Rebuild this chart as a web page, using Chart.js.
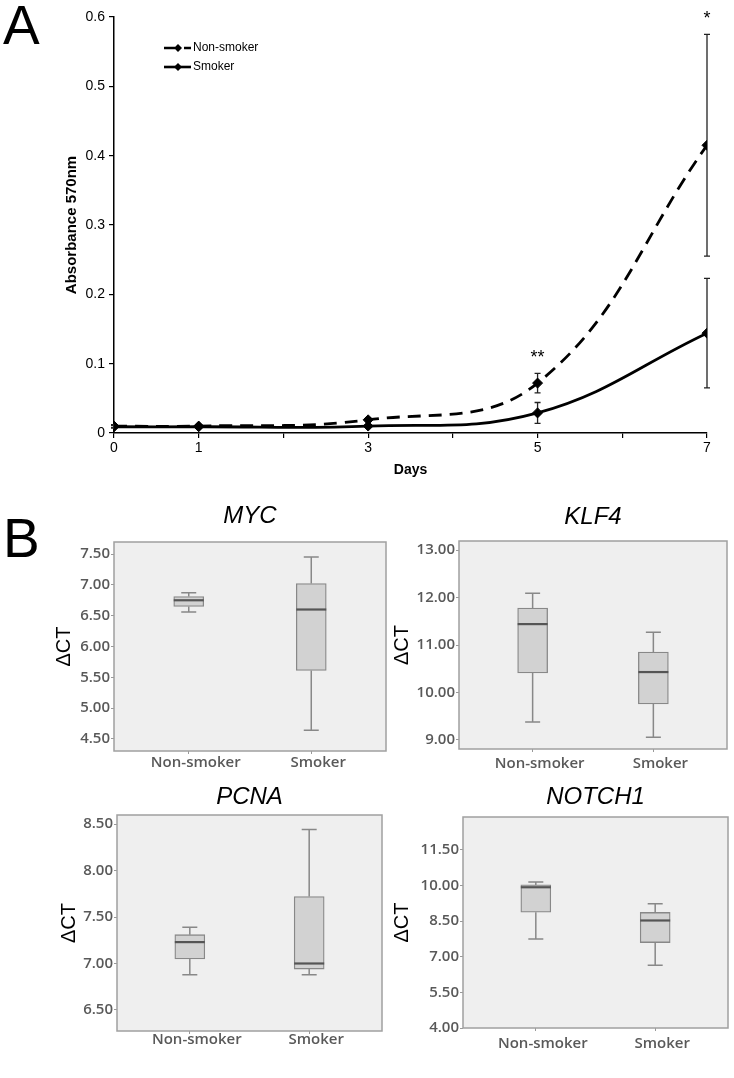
<!DOCTYPE html>
<html>
<head>
<meta charset="utf-8">
<title>Growth and gene expression</title>
<script src="https://cdn.jsdelivr.net/npm/chart.js@4.4.1/dist/chart.umd.min.js"></script>
<style>
  body { margin: 0; background: #fff; width: 734px; height: 1078px; position: relative; overflow: hidden; }
  canvas { position: absolute; }
  .letter { position: absolute; font-family: 'Liberation Sans', Arial, sans-serif; font-size: 55px; line-height: 1; color: #000; }
</style>
</head>
<body>
<div class="letter" style="left:3px;top:-2px">A</div>
<div class="letter" style="left:3px;top:511px">B</div>
<canvas id="growth" width="734" height="490" style="left:0;top:0"></canvas>
<canvas id="myc" width="387" height="300" style="left:0;top:490px"></canvas>
<canvas id="klf4" width="347" height="300" style="left:387px;top:490px"></canvas>
<canvas id="pcna" width="387" height="298" style="left:0;top:780px"></canvas>
<canvas id="notch1" width="347" height="298" style="left:387px;top:780px"></canvas>
<script>
// panel A: absorbance over days
const days = [0, 1, 3, 5, 7];
const dayTicks = [0, 1, 2, 3, 4, 5, 6, 7];
const labelledDays = [0, 1, 3, 5, 7];
const absTicks = [0, 0.1, 0.2, 0.3, 0.4, 0.5, 0.6];
const nonSmokerAbs = [0.010, 0.010, 0.019, 0.072, 0.415];
const nonSmokerErr = [0.002, 0.002, 0.003, 0.014, 0.160];
const smokerAbs = [0.009, 0.009, 0.010, 0.029, 0.144];
const smokerErr = [0.002, 0.002, 0.002, 0.015, 0.079];
const sigMarks = ['', '', '', '**', '*'];

// panel B: delta CT, each row is [min, q1, median, q3, max]
const groups = ['Non-smoker', 'Smoker'];
const groupPos = [1, 2];
const mycNonSmoker = [6.56, 6.65, 6.75, 6.81, 6.87];
const mycSmoker = [4.64, 5.61, 6.60, 7.02, 7.45];
const mycTicks = [4.5, 5, 5.5, 6, 6.5, 7, 7.5];
const klf4NonSmoker = [9.38, 10.41, 11.44, 11.78, 12.09];
const klf4Smoker = [9.06, 9.76, 10.43, 10.85, 11.27];
const klf4Ticks = [9, 10, 11, 12, 13];
const pcnaNonSmoker = [6.88, 7.05, 7.23, 7.31, 7.39];
const pcnaSmoker = [6.88, 6.94, 7.00, 7.72, 8.44];
const pcnaTicks = [6.5, 7, 7.5, 8, 8.5];
const notch1NonSmoker = [7.75, 8.88, 9.93, 10.03, 10.15];
const notch1Smoker = [6.64, 7.60, 8.53, 8.87, 9.24];
const notch1Ticks = [4, 5.5, 7, 8.5, 10, 11.5];

const narrow = "'Liberation Sans Narrow', 'Liberation Sans', Arial, sans-serif";
const arial = "'Liberation Sans', Arial, sans-serif";
const spss = "'Open Sans', 'Noto Sans', sans-serif";

const fixedSize = size => scale => {
  if (scale.isHorizontal()) scale.height = size; else scale.width = size;
};
const setTicks = values => scale => { scale.ticks = values.map(v => ({ value: v })); };

const errorBars = {
  id: 'errorBars',
  beforeDatasetsDraw(chart) {
    const { ctx, scales: { x, y } } = chart;
    ctx.save();
    ctx.strokeStyle = '#222';
    ctx.lineWidth = 1.3;
    chart.data.datasets.forEach(ds => {
      ds.data.forEach((p, i) => {
        const px = x.getPixelForValue(p.x);
        const hi = y.getPixelForValue(p.y + ds.errors[i]);
        const lo = y.getPixelForValue(p.y - ds.errors[i]);
        ctx.beginPath();
        ctx.moveTo(px, hi); ctx.lineTo(px, lo);
        ctx.moveTo(px - 3, hi); ctx.lineTo(px + 3, hi);
        ctx.moveTo(px - 3, lo); ctx.lineTo(px + 3, lo);
        ctx.stroke();
      });
    });
    // significance stars above the non-smoker bars
    const top = chart.data.datasets[0];
    ctx.fillStyle = '#000';
    ctx.font = "18px " + arial;
    ctx.textAlign = 'center';
    ctx.textBaseline = 'alphabetic';
    sigMarks.forEach((m, i) => {
      if (!m) return;
      const px = x.getPixelForValue(days[i]);
      const py = y.getPixelForValue(top.data[i].y + top.errors[i]);
      ctx.fillText(m, px, py - 10);
    });
    ctx.restore();
  }
};

const lineLegend = {
  id: 'lineLegend',
  afterDraw(chart) {
    const { ctx, chartArea: a } = chart;
    ctx.save();
    chart.data.datasets.forEach((ds, i) => {
      const x0 = a.left + 50;
      const yy = a.top + 31 + i * 19;
      ctx.strokeStyle = '#000';
      ctx.lineWidth = 2.6;
      ctx.setLineDash(ds.borderDash && ds.borderDash.length ? [11, 9] : []);
      ctx.beginPath();
      ctx.moveTo(x0, yy); ctx.lineTo(x0 + 27, yy);
      ctx.stroke();
      ctx.setLineDash([]);
      ctx.fillStyle = '#000';
      ctx.beginPath();
      ctx.moveTo(x0 + 14, yy - 4); ctx.lineTo(x0 + 18, yy);
      ctx.lineTo(x0 + 14, yy + 4); ctx.lineTo(x0 + 10, yy);
      ctx.closePath(); ctx.fill();
      ctx.font = "12px " + narrow;
      ctx.textBaseline = 'middle';
      ctx.fillText(ds.label, x0 + 29, yy);
    });
    ctx.restore();
  }
};

new Chart(document.getElementById('growth'), {
  type: 'line',
  data: {
    datasets: [
      {
        label: 'Non-smoker',
        data: days.map((d, i) => ({ x: d, y: nonSmokerAbs[i] })),
        errors: nonSmokerErr,
        borderColor: '#000', borderWidth: 2.8, borderDash: [13, 8],
        pointStyle: 'rectRot', pointRadius: 5, pointBackgroundColor: '#000', pointBorderColor: '#000', pointBorderWidth: 1,
        tension: 0.4, fill: false
      },
      {
        label: 'Smoker',
        data: days.map((d, i) => ({ x: d, y: smokerAbs[i] })),
        errors: smokerErr,
        borderColor: '#000', borderWidth: 2.8,
        pointStyle: 'rectRot', pointRadius: 5, pointBackgroundColor: '#000', pointBorderColor: '#000', pointBorderWidth: 1,
        tension: 0.4, fill: false
      }
    ]
  },
  options: {
    responsive: false, animation: false, devicePixelRatio: 1,
    layout: { padding: { left: 58, right: 27, top: 17, bottom: 0 } },
    plugins: { legend: { display: false }, tooltip: { enabled: false } },
    scales: {
      x: {
        type: 'linear', min: 0, max: 7,
        afterBuildTicks: setTicks(dayTicks),
        afterFit: fixedSize(57),
        grid: { drawOnChartArea: false, tickLength: 5, color: '#000', lineWidth: 1.2 },
        border: { color: '#000', width: 1.5 },
        ticks: {
          autoSkip: false, maxRotation: 0, padding: 2, color: '#000',
          font: { family: narrow, size: 14 },
          callback: v => labelledDays.includes(v) ? String(v) : ''
        },
        title: { display: true, text: 'Days', color: '#000', font: { family: narrow, size: 14, weight: 'bold' }, padding: { top: 0, bottom: 11 } }
      },
      y: {
        min: 0, max: 0.6,
        afterBuildTicks: setTicks(absTicks),
        afterFit: fixedSize(56),
        grid: { drawOnChartArea: false, tickLength: 5, color: '#000', lineWidth: 1.2 },
        border: { color: '#000', width: 1.5 },
        ticks: { padding: 4, color: '#000', font: { family: narrow, size: 14 }, callback: v => String(v) },
        title: { display: true, text: 'Absorbance 570nm', color: '#000', font: { family: narrow, size: 15, weight: 'bold' }, padding: { top: 5, bottom: 0 } }
      }
    }
  },
  plugins: [errorBars, lineLegend]
});

const plotFrame = {
  id: 'plotFrame',
  beforeDatasetsDraw(chart) {
    const { ctx, chartArea: a } = chart;
    ctx.save();
    ctx.fillStyle = '#efefef';
    ctx.fillRect(a.left, a.top, a.width, a.height);
    ctx.strokeStyle = '#a0a0a0';
    ctx.lineWidth = 1.5;
    ctx.strokeRect(a.left, a.top, a.width, a.height);
    ctx.restore();
  }
};

const whiskers = {
  id: 'whiskers',
  afterDatasetsDraw(chart) {
    const { ctx, scales: { x, y } } = chart;
    const ds = chart.data.datasets[0];
    ctx.save();
    ds.stats.forEach((s, i) => {
      const cx = x.getPixelForValue(groupPos[i]);
      const [mn, q1, md, q3, mx] = s.map(v => y.getPixelForValue(v));
      ctx.strokeStyle = '#888';
      ctx.lineWidth = 1.5;
      ctx.beginPath();
      ctx.moveTo(cx, q1); ctx.lineTo(cx, mn);
      ctx.moveTo(cx, q3); ctx.lineTo(cx, mx);
      ctx.moveTo(cx - 7.5, mn); ctx.lineTo(cx + 7.5, mn);
      ctx.moveTo(cx - 7.5, mx); ctx.lineTo(cx + 7.5, mx);
      ctx.stroke();
      ctx.strokeStyle = '#555';
      ctx.lineWidth = 2.2;
      ctx.beginPath();
      ctx.moveTo(cx - 15, md); ctx.lineTo(cx + 15, md);
      ctx.stroke();
    });
    ctx.restore();
  }
};

function boxChart(id, gene, nonSmoker, smoker, yTicks, yMin, yMax, g) {
  const stats = [nonSmoker, smoker];
  return new Chart(document.getElementById(id), {
    type: 'bar',
    data: {
      datasets: [{
        data: groupPos.map((p, i) => ({ x: p, y: [stats[i][1], stats[i][3]] })),
        stats,
        backgroundColor: '#d2d2d2', borderColor: '#888', borderWidth: 1.3,
        borderSkipped: false, barThickness: 30
      }]
    },
    options: {
      responsive: false, animation: false, devicePixelRatio: 1,
      layout: { padding: { left: g.padLeft, right: g.padRight, top: 0, bottom: 0 } },
      plugins: {
        legend: { display: false }, tooltip: { enabled: false },
        title: {
          display: true, text: gene, fullSize: false, color: '#000',
          font: { family: arial, size: 24, style: 'italic', weight: 'normal' },
          padding: { top: g.titleTop, bottom: g.titleBottom }
        }
      },
      scales: {
        x: {
          type: 'linear', min: 0.39, max: 2.61, offset: false,
          afterBuildTicks: setTicks(groupPos),
          afterFit: fixedSize(g.xHeight),
          grid: { drawOnChartArea: false, offset: false, tickLength: 3, color: '#999' },
          border: { display: false },
          ticks: {
            autoSkip: false, maxRotation: 0, padding: g.xPad, labelOffset: 7, color: '#595959',
            font: { family: spss, size: 15, weight: '600' },
            callback: v => groups[groupPos.indexOf(v)] || ''
          }
        },
        y: {
          min: yMin, max: yMax,
          afterBuildTicks: setTicks(yTicks),
          afterFit: fixedSize(g.yWidth),
          grid: { drawOnChartArea: false, tickLength: 3, color: '#999' },
          border: { display: false },
          ticks: { padding: 1, color: '#595959', font: { family: spss, size: 15, weight: '600' }, callback: v => v.toFixed(2) },
          title: { display: true, text: 'ΔCT', color: '#000', font: { family: arial, size: 20, weight: 'normal' }, padding: { top: g.yTitlePad, bottom: 0 } }
        }
      }
    },
    plugins: [plotFrame, whiskers]
  });
}

boxChart('myc', 'MYC', mycNonSmoker, mycSmoker, mycTicks, 4.305, 7.695,
  { padLeft: 50, padRight: 1, yWidth: 64, yTitlePad: 2.5, titleTop: 11.6, titleBottom: 11.6, xHeight: 39, xPad: 0 });
boxChart('klf4', 'KLF4', klf4NonSmoker, klf4Smoker, klf4Ticks, 8.81, 13.19,
  { padLeft: 0, padRight: 7, yWidth: 72, yTitlePad: 3, titleTop: 12.6, titleBottom: 9.6, xHeight: 41, xPad: 2.6 });
boxChart('pcna', 'PCNA', pcnaNonSmoker, pcnaSmoker, pcnaTicks, 6.274, 8.597,
  { padLeft: 50, padRight: 5, yWidth: 67, yTitlePad: 7.5, titleTop: 2.6, titleBottom: 3.6, xHeight: 47, xPad: -3 });
boxChart('notch1', 'NOTCH1', notch1NonSmoker, notch1Smoker, notch1Ticks, 4.0, 12.89,
  { padLeft: 0, padRight: 6, yWidth: 76, yTitlePad: 3, titleTop: 2.6, titleBottom: 5.6, xHeight: 50, xPad: 3.6 });
</script>
</body>
</html>
